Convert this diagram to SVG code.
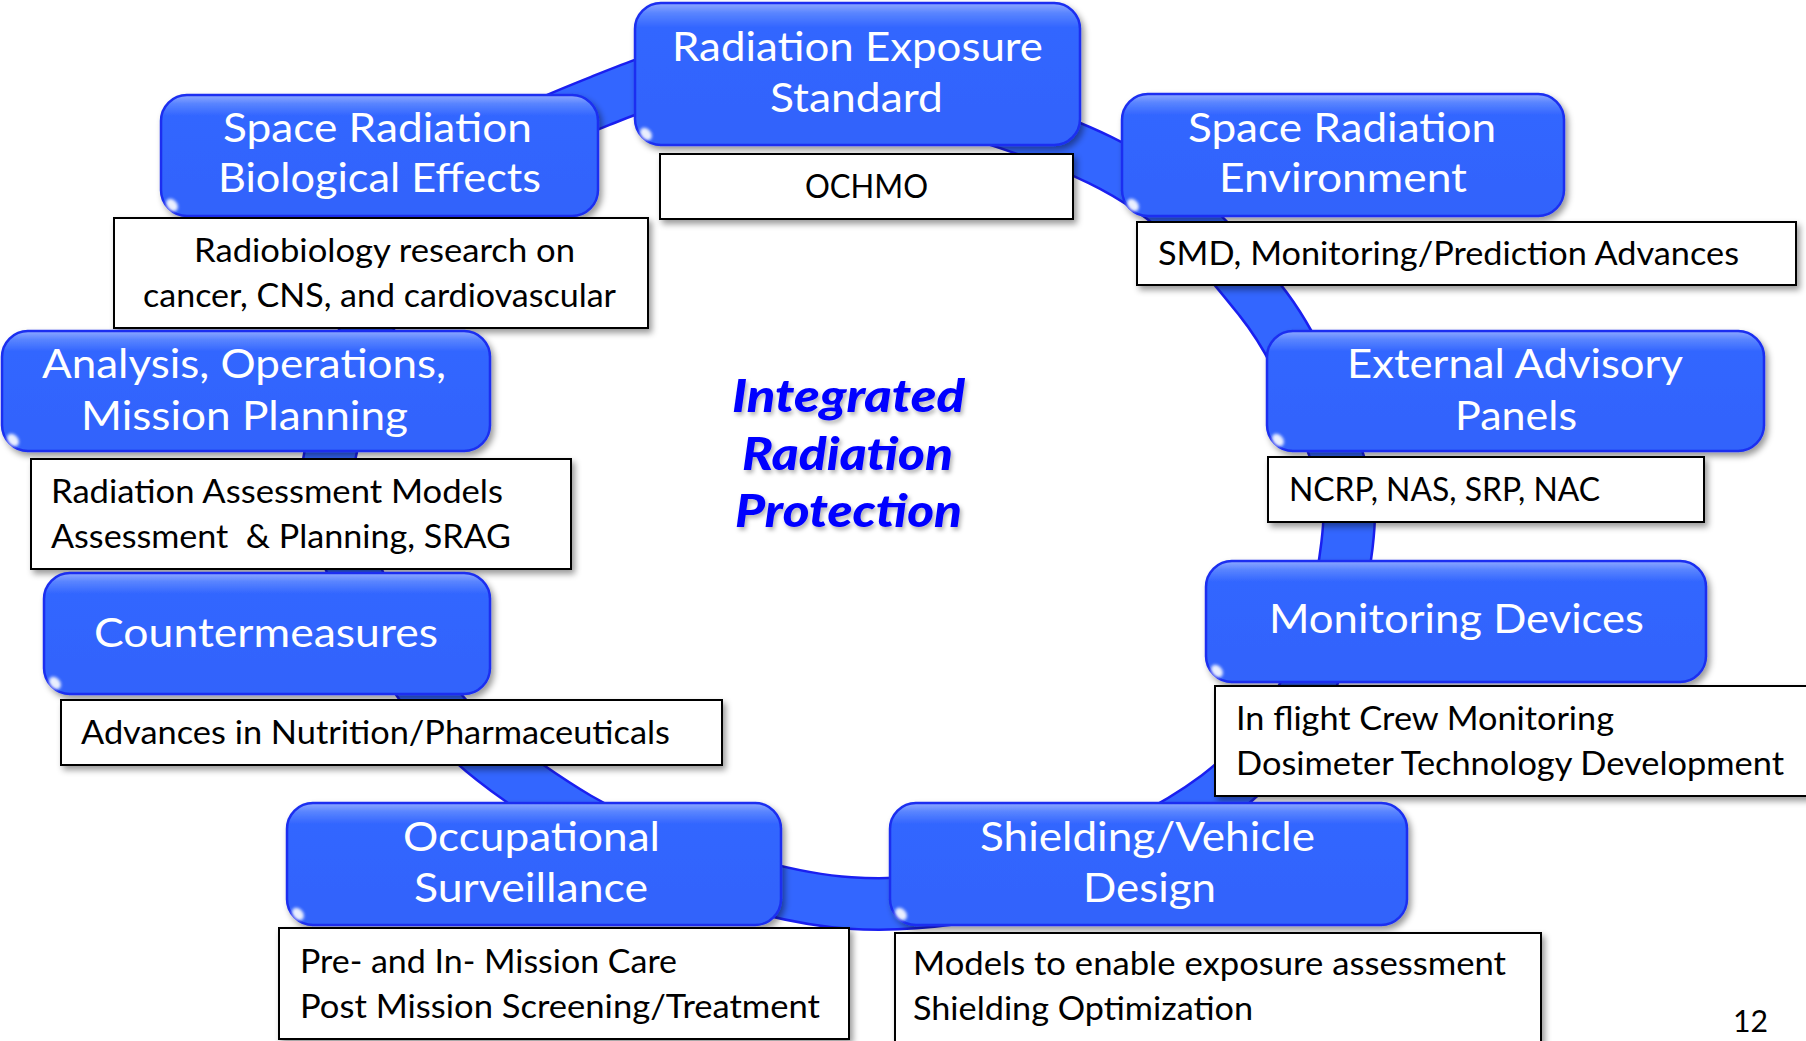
<svg xmlns="http://www.w3.org/2000/svg" width="1806" height="1041" viewBox="0 0 1806 1041">
<defs>
<linearGradient id="nodeGrad" x1="0" y1="0" x2="0" y2="1">
<stop offset="0" stop-color="#8fa9ff"/>
<stop offset="0.07" stop-color="#5a85ff"/>
<stop offset="0.17" stop-color="#3366ff"/>
<stop offset="1" stop-color="#3163fb"/>
</linearGradient>
<filter id="shadow" x="-10%" y="-10%" width="130%" height="140%">
<feDropShadow dx="3" dy="4" stdDeviation="3" flood-color="#000" flood-opacity="0.4"/>
</filter>
<filter id="txtShadow" x="-10%" y="-10%" width="130%" height="140%">
<feDropShadow dx="2" dy="3" stdDeviation="2" flood-color="#000" flood-opacity="0.3"/>
</filter>
<filter id="glow" x="-100%" y="-100%" width="300%" height="300%">
<feGaussianBlur stdDeviation="1.5"/>
</filter>
</defs>
<style>
.box { fill: url(#nodeGrad); stroke: #1a2ff0; stroke-width: 2.5; filter: url(#shadow); }
.hl { fill: #ffffff; opacity: 0.9; filter: url(#glow); }
.ntext { font-family: Lato, "Open Sans", sans-serif; font-size: 41px; fill: #ffffff; }
.dbox { fill: #ffffff; stroke: #000000; stroke-width: 2; filter: url(#shadow); }
.dtext { font-family: Lato, "Open Sans", sans-serif; font-size: 33px; fill: #000000; }
.center { font-family: Lato, "Open Sans", sans-serif; font-size: 46px; font-weight: 900; font-style: italic; fill: #0000ff; filter: url(#txtShadow); }
.bandOuter { fill: none; stroke: #1a1ff0; stroke-width: 54; }
.bandInner { fill: none; stroke: #3366ff; stroke-width: 49; }
</style>
<rect width="1806" height="1041" fill="#ffffff"/>

<g id="connectors">
<path id="ring" class="bandOuter" d="M784,69 C867.3,78.8 1020.7,121.5 1100,160 C1179.3,198.5 1220.7,251 1260,300 C1299.3,349 1321.5,413.2 1336,454 C1350.5,494.8 1351.5,506.7 1347,545 C1342.5,583.3 1330.7,642.2 1309,684 C1287.3,725.8 1260.2,763.7 1217,796 C1173.8,828.3 1111.2,860.2 1050,878 C988.8,895.8 916.7,907.3 850,903 C783.3,898.7 705,872.5 650,852 C595,831.5 556.7,805.8 520,780 C483.3,754.2 457.7,732 430,697 C402.3,662 370.7,610.3 354,570 C337.3,529.7 318.2,514.7 330,455 C341.8,395.3 380,271 425,212 C470,153 540.2,124.8 600,101 C659.8,77.2 700.7,59.2 784,69 Z"/>
<path class="bandInner" d="M784,69 C867.3,78.8 1020.7,121.5 1100,160 C1179.3,198.5 1220.7,251 1260,300 C1299.3,349 1321.5,413.2 1336,454 C1350.5,494.8 1351.5,506.7 1347,545 C1342.5,583.3 1330.7,642.2 1309,684 C1287.3,725.8 1260.2,763.7 1217,796 C1173.8,828.3 1111.2,860.2 1050,878 C988.8,895.8 916.7,907.3 850,903 C783.3,898.7 705,872.5 650,852 C595,831.5 556.7,805.8 520,780 C483.3,754.2 457.7,732 430,697 C402.3,662 370.7,610.3 354,570 C337.3,529.7 318.2,514.7 330,455 C341.8,395.3 380,271 425,212 C470,153 540.2,124.8 600,101 C659.8,77.2 700.7,59.2 784,69 Z"/>
</g>

<g id="center-title">
<text class="center" x="732" y="412" textLength="233" lengthAdjust="spacingAndGlyphs">Integrated</text>
<text class="center" x="742" y="470" textLength="211" lengthAdjust="spacingAndGlyphs">Radiation</text>
<text class="center" x="735" y="527" textLength="227" lengthAdjust="spacingAndGlyphs">Protection</text>
</g>

<g id="node-exposure-standard">
<rect class="box" x="635" y="3" width="445" height="142" rx="26"/>
<ellipse class="hl" cx="646" cy="134" rx="5" ry="7" transform="rotate(-40 646 134)"/>
<text class="ntext" x="672" y="61" textLength="371" lengthAdjust="spacingAndGlyphs">Radiation Exposure</text>
<text class="ntext" x="770" y="112" textLength="173" lengthAdjust="spacingAndGlyphs">Standard</text>
</g>
<g id="desc-ochmo">
<rect class="dbox" x="660" y="154" width="413" height="65"/>
<text class="dtext" x="805" y="198" textLength="123" lengthAdjust="spacingAndGlyphs">OCHMO</text>
</g>

<g id="node-space-radiation-environment">
<rect class="box" x="1122" y="94" width="442" height="122" rx="26"/>
<ellipse class="hl" cx="1133" cy="205" rx="5" ry="7" transform="rotate(-40 1133 205)"/>
<text class="ntext" x="1188" y="142" textLength="308" lengthAdjust="spacingAndGlyphs">Space Radiation</text>
<text class="ntext" x="1219" y="192" textLength="248" lengthAdjust="spacingAndGlyphs">Environment</text>
</g>
<g id="desc-smd">
<rect class="dbox" x="1137" y="222" width="659" height="63"/>
<text class="dtext" x="1158" y="265" textLength="581" lengthAdjust="spacingAndGlyphs">SMD, Monitoring/Prediction Advances</text>
</g>

<g id="node-biological-effects">
<rect class="box" x="161" y="95" width="437" height="121" rx="26"/>
<ellipse class="hl" cx="172" cy="205" rx="5" ry="7" transform="rotate(-40 172 205)"/>
<text class="ntext" x="223" y="142" textLength="309" lengthAdjust="spacingAndGlyphs">Space Radiation</text>
<text class="ntext" x="218" y="192" textLength="323" lengthAdjust="spacingAndGlyphs">Biological Effects</text>
</g>
<g id="desc-radiobiology">
<rect class="dbox" x="114" y="218" width="534" height="110"/>
<text class="dtext" x="194" y="262" textLength="381" lengthAdjust="spacingAndGlyphs">Radiobiology research on</text>
<text class="dtext" x="143" y="307" textLength="473" lengthAdjust="spacingAndGlyphs">cancer, CNS, and cardiovascular</text>
</g>

<g id="node-analysis-operations">
<rect class="box" x="2" y="331" width="488" height="120" rx="26"/>
<ellipse class="hl" cx="13" cy="440" rx="5" ry="7" transform="rotate(-40 13 440)"/>
<text class="ntext" x="42" y="378" textLength="404" lengthAdjust="spacingAndGlyphs">Analysis, Operations,</text>
<text class="ntext" x="81" y="430" textLength="327" lengthAdjust="spacingAndGlyphs">Mission Planning</text>
</g>
<g id="desc-assessment-models">
<rect class="dbox" x="31" y="459" width="540" height="110"/>
<text class="dtext" x="51" y="503" textLength="452" lengthAdjust="spacingAndGlyphs">Radiation Assessment Models</text>
<text class="dtext" x="51" y="548" textLength="460" lengthAdjust="spacingAndGlyphs" xml:space="preserve">Assessment  &amp; Planning, SRAG</text>
</g>

<g id="node-countermeasures">
<rect class="box" x="44" y="573" width="446" height="121" rx="26"/>
<ellipse class="hl" cx="55" cy="683" rx="5" ry="7" transform="rotate(-40 55 683)"/>
<text class="ntext" x="94" y="647" textLength="344" lengthAdjust="spacingAndGlyphs">Countermeasures</text>
</g>
<g id="desc-nutrition">
<rect class="dbox" x="61" y="700" width="661" height="65"/>
<text class="dtext" x="81" y="744" textLength="589" lengthAdjust="spacingAndGlyphs">Advances in Nutrition/Pharmaceuticals</text>
</g>

<g id="node-external-advisory">
<rect class="box" x="1267" y="331" width="497" height="120" rx="26"/>
<ellipse class="hl" cx="1278" cy="440" rx="5" ry="7" transform="rotate(-40 1278 440)"/>
<text class="ntext" x="1347" y="378" textLength="336" lengthAdjust="spacingAndGlyphs">External Advisory</text>
<text class="ntext" x="1455" y="430" textLength="122" lengthAdjust="spacingAndGlyphs">Panels</text>
</g>
<g id="desc-panels">
<rect class="dbox" x="1268" y="457" width="436" height="65"/>
<text class="dtext" x="1289" y="501" textLength="311" lengthAdjust="spacingAndGlyphs">NCRP, NAS, SRP, NAC</text>
</g>

<g id="node-monitoring-devices">
<rect class="box" x="1206" y="561" width="500" height="121" rx="26"/>
<ellipse class="hl" cx="1217" cy="671" rx="5" ry="7" transform="rotate(-40 1217 671)"/>
<text class="ntext" x="1269" y="633" textLength="375" lengthAdjust="spacingAndGlyphs">Monitoring Devices</text>
</g>
<g id="desc-monitoring">
<rect class="dbox" x="1215" y="686" width="600" height="110"/>
<text class="dtext" x="1236" y="730" textLength="378" lengthAdjust="spacingAndGlyphs">In flight Crew Monitoring</text>
<text class="dtext" x="1236" y="775" textLength="548" lengthAdjust="spacingAndGlyphs">Dosimeter Technology Development</text>
</g>

<g id="node-occupational-surveillance">
<rect class="box" x="287" y="803" width="494" height="122" rx="26"/>
<ellipse class="hl" cx="298" cy="914" rx="5" ry="7" transform="rotate(-40 298 914)"/>
<text class="ntext" x="403" y="851" textLength="257" lengthAdjust="spacingAndGlyphs">Occupational</text>
<text class="ntext" x="414" y="902" textLength="234" lengthAdjust="spacingAndGlyphs">Surveillance</text>
</g>
<g id="desc-mission-care">
<rect class="dbox" x="279" y="928" width="570" height="111"/>
<text class="dtext" x="300" y="973" textLength="377" lengthAdjust="spacingAndGlyphs">Pre- and In- Mission Care</text>
<text class="dtext" x="300" y="1018" textLength="520" lengthAdjust="spacingAndGlyphs">Post Mission Screening/Treatment</text>
</g>

<g id="node-shielding-design">
<rect class="box" x="890" y="803" width="517" height="122" rx="26"/>
<ellipse class="hl" cx="901" cy="914" rx="5" ry="7" transform="rotate(-40 901 914)"/>
<text class="ntext" x="980" y="851" textLength="335" lengthAdjust="spacingAndGlyphs">Shielding/Vehicle</text>
<text class="ntext" x="1083" y="902" textLength="133" lengthAdjust="spacingAndGlyphs">Design</text>
</g>
<g id="desc-shielding">
<rect class="dbox" x="895" y="933" width="646" height="120"/>
<text class="dtext" x="913" y="975" textLength="593" lengthAdjust="spacingAndGlyphs">Models to enable exposure assessment</text>
<text class="dtext" x="913" y="1020" textLength="340" lengthAdjust="spacingAndGlyphs">Shielding Optimization</text>
</g>

<text id="page-number" x="1733" y="1032" font-family="Lato, 'Open Sans', sans-serif" font-size="30" fill="#000000" textLength="35" lengthAdjust="spacingAndGlyphs">12</text>
</svg>
